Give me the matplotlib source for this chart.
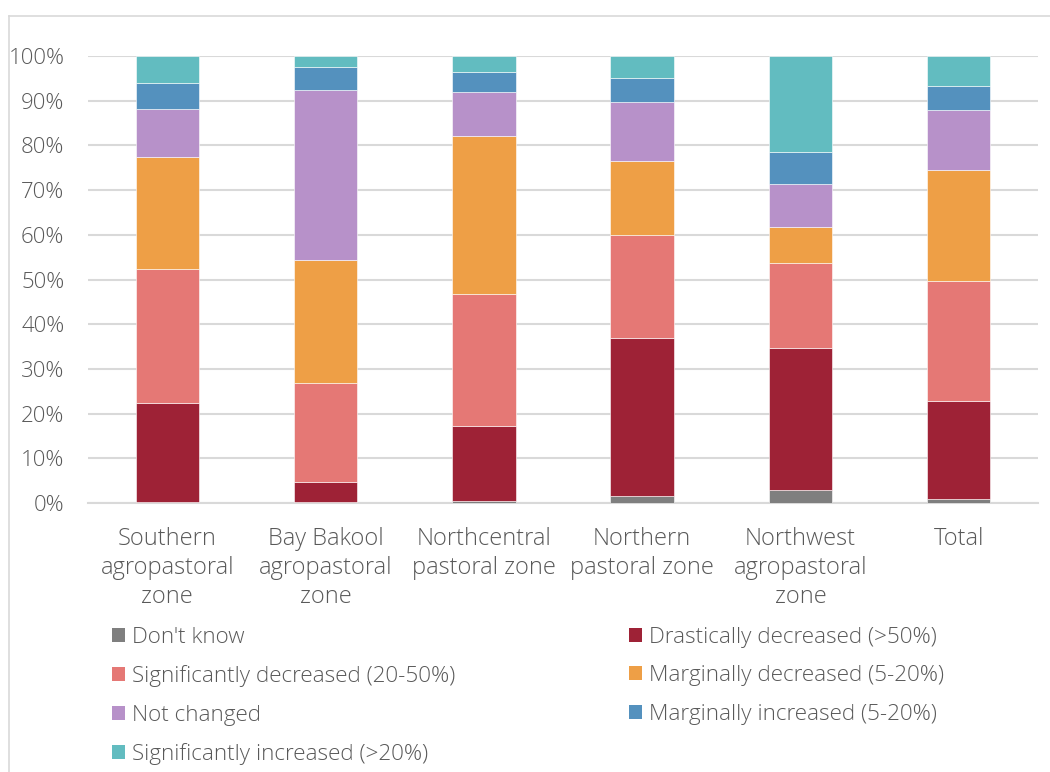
import matplotlib
matplotlib.use("Agg")
import matplotlib.pyplot as plt
from matplotlib.lines import Line2D
from matplotlib.patches import Patch
import numpy as np

categories = ["Southern\nagropastoral\nzone", "Bay Bakool\nagropastoral\nzone",
              "Northcentral\npastoral zone", "Northern\npastoral zone",
              "Northwest\nagropastoral\nzone", "Total"]

series_names = ["Don't know", "Drastically decreased (>50%)",
                "Significantly decreased (20-50%)", "Marginally decreased (5-20%)",
                "Not changed", "Marginally increased (5-20%)",
                "Significantly increased (>20%)"]

dont_know   = [0.2, 0.2, 0.5, 1.6, 3.0, 0.9]
drastic_dec = [22.1, 4.4, 16.8, 35.4, 31.6, 22.0]
signif_dec  = [30.0, 22.2, 29.5, 22.9, 19.0, 26.7]
marg_dec    = [25.2, 27.6, 35.2, 16.6, 8.1, 24.8]
not_changed = [10.7, 38.0, 10.0, 13.1, 9.6, 13.5]
marg_inc    = [5.8, 5.1, 4.4, 5.5, 7.3, 5.4]
signif_inc  = [6.0, 2.5, 3.6, 4.9, 21.4, 6.7]

colors = ["#7F7F7F", "#9E2236", "#E57875", "#EE9F46", "#B791C9", "#5491BE", "#62BCC0"]

series = [dont_know, drastic_dec, signif_dec, marg_dec, not_changed, marg_inc, signif_inc]

text_color = "#595959"
grid_color = "#D9D9D9"
font = "Open Sans"
plt.rcParams["font.family"] = [font, "DejaVu Sans"]
fw = "light"
fs = 17
legend_fs = 16.2

fig = plt.figure(figsize=(10.5, 7.72), dpi=100)
ax = fig.add_axes([88/1050, (772-503)/772, (1038-88)/1050, (503-56)/772])

x = np.arange(len(categories))
bottom = np.zeros(len(categories))
handles = []
for vals, col, name in zip(series, colors, series_names):
    v = np.array(vals) / 100.0
    ax.bar(x, v, width=0.4, bottom=bottom, color=col, edgecolor="white",
           linewidth=0.4, zorder=3)
    bottom += v
    handles.append(Patch(facecolor=col, edgecolor="none", label=name))

ax.set_ylim(0, 1)
ax.set_xlim(-0.5, len(categories) - 0.5)
ax.set_yticks(np.arange(0, 1.01, 0.1))
ax.set_yticklabels([f"{int(round(t*100))}%" for t in np.arange(0, 1.01, 0.1)])
ax.yaxis.grid(True, color=grid_color, linewidth=1.5, zorder=0)
ax.set_axisbelow(True)
for s in ["left", "right", "top"]:
    ax.spines[s].set_visible(False)
ax.spines["bottom"].set_color(grid_color)
ax.spines["bottom"].set_linewidth(1.5)
ax.tick_params(axis="y", length=0, pad=17, labelsize=16, labelcolor=text_color)
ax.tick_params(axis="x", length=0, pad=17, labelsize=fs, labelcolor=text_color)
ax.set_xticks(x)
ax.set_xticklabels(categories, linespacing=1.3)
for lab in ax.get_xticklabels() + ax.get_yticklabels():
    lab.set_fontweight(fw)

order = [0, 2, 4, 6, 1, 3, 5]
leg = fig.legend([handles[i] for i in order], [series_names[i] for i in order],
                 ncol=2, loc="upper left", bbox_to_anchor=(112/1050, 1 - 627/772),
                 frameon=False, fontsize=legend_fs, handlelength=0.58, handleheight=0.58,
                 handletextpad=0.33, labelspacing=0.77, columnspacing=7.7,
                 labelcolor=text_color, borderaxespad=0, borderpad=0)
for t in leg.get_texts():
    t.set_fontweight(fw)

# chart border
fig.add_artist(Line2D([9/1050, 9/1050], [0, 1 - 16/772], transform=fig.transFigure,
                      color=grid_color, linewidth=1.2))
fig.add_artist(Line2D([9/1050, 1], [1 - 16/772, 1 - 16/772], transform=fig.transFigure,
                      color=grid_color, linewidth=1.2))

fig.savefig("out.png", dpi=100)
